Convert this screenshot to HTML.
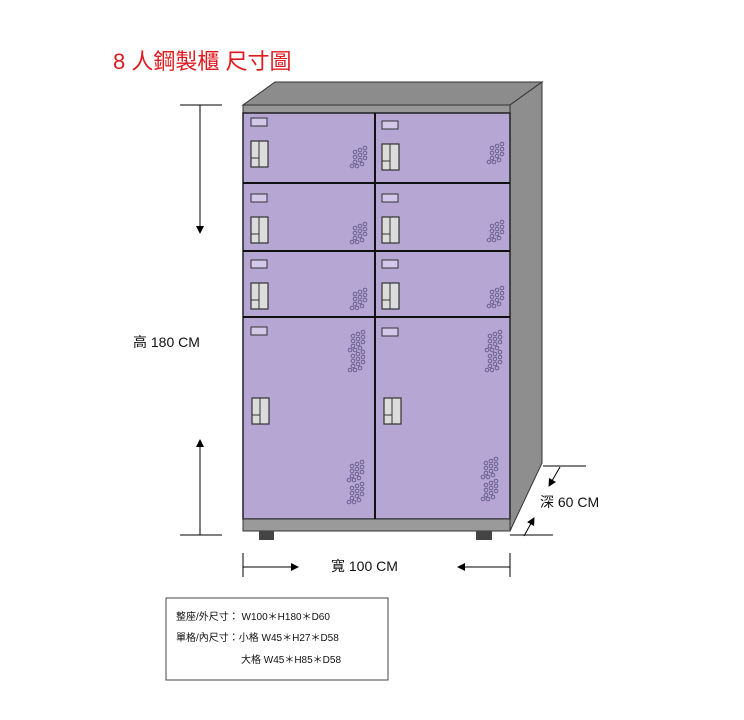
<!DOCTYPE html>
<html><head><meta charset="utf-8"><style>
body{margin:0;background:#fff;width:744px;height:720px;overflow:hidden}
svg{display:block}
text{font-family:"Liberation Sans","Noto Sans CJK TC",sans-serif}
</style></head><body>
<svg width="744" height="720" viewBox="0 0 744 720" xmlns="http://www.w3.org/2000/svg">
<defs>
<marker id="ah" markerWidth="8" markerHeight="8" refX="7" refY="4" orient="auto"><path d="M0,0 L8,4 L0,8 Z" fill="#000"/></marker>
<g id="dots" fill="none" stroke="#6a6090" stroke-width="1">
<circle cx="0" cy="0" r="1.8"/><circle cx="5" cy="-2" r="1.8"/><circle cx="10" cy="-4" r="1.8"/>
<circle cx="0" cy="5" r="1.8"/><circle cx="5" cy="3" r="1.8"/><circle cx="10" cy="1" r="1.8"/>
<circle cx="0" cy="10" r="1.8"/><circle cx="5" cy="8" r="1.8"/><circle cx="10" cy="6" r="1.8"/>
<circle cx="-3" cy="14" r="1.8"/><circle cx="2" cy="14" r="1.8"/><circle cx="7" cy="12" r="1.8"/>
</g>
<g id="tag"><rect x="0" y="0" width="16" height="8" fill="#d3c8ea" stroke="#333" stroke-width="1"/></g>
<g id="lock">
<rect x="0" y="0" width="17" height="26" fill="#dcdcdc" stroke="#333" stroke-width="1.2"/>
<line x1="8" y1="0" x2="8" y2="26" stroke="#333"/>
<line x1="0" y1="17" x2="8" y2="17" stroke="#333"/>
</g>
<g id="hw"><use href="#tag"/><use href="#lock" y="23"/></g>
</defs>
<text x="113" y="69" font-size="22" fill="#e0191e">8 人鋼製櫃  尺寸圖</text>
<polygon points="243,105 510,105 542,82 275,82" fill="#8c8c8c" stroke="#333"/>
<polygon points="510,105 542,82 542,463 510,531" fill="#8e8e8e" stroke="#333"/>
<rect x="243" y="105" width="267" height="8" fill="#979797" stroke="#333"/>
<rect x="243" y="113" width="267" height="406" fill="#b5a6d4" stroke="#222" stroke-width="1.5"/>
<rect x="243" y="519" width="267" height="12" fill="#9a9a9a" stroke="#333"/>
<rect x="259" y="531" width="15" height="9" fill="#444"/>
<rect x="476" y="531" width="16" height="9" fill="#444"/>
<g stroke="#111" stroke-width="2">
<line x1="375" y1="113" x2="375" y2="519"/>
<line x1="243" y1="183" x2="510" y2="183"/>
<line x1="243" y1="251" x2="510" y2="251"/>
<line x1="243" y1="317" x2="510" y2="317"/>
</g>
<use href="#hw" x="251" y="118"/><use href="#hw" x="382" y="121"/>
<use href="#hw" x="251" y="194"/><use href="#hw" x="382" y="194"/>
<use href="#hw" x="251" y="260"/><use href="#hw" x="382" y="260"/>
<use href="#tag" x="251" y="327"/><use href="#tag" x="382" y="328"/>
<use href="#lock" x="252" y="398"/><use href="#lock" x="384" y="398"/>
<use href="#dots" x="355" y="152"/><use href="#dots" x="492" y="148"/>
<use href="#dots" x="355" y="228"/><use href="#dots" x="492" y="226"/>
<use href="#dots" x="355" y="294"/><use href="#dots" x="492" y="292"/>
<use href="#dots" x="353" y="336"/><use href="#dots" x="353" y="356"/>
<use href="#dots" x="490" y="336"/><use href="#dots" x="490" y="356"/>
<use href="#dots" x="352" y="466"/><use href="#dots" x="352" y="488"/>
<use href="#dots" x="486" y="463"/><use href="#dots" x="486" y="485"/>
<g stroke="#000" stroke-width="1">
<line x1="180" y1="105" x2="222" y2="105"/>
<line x1="200" y1="105" x2="200" y2="233" marker-end="url(#ah)"/>
<line x1="180" y1="535" x2="222" y2="535"/>
<line x1="200" y1="535" x2="200" y2="440" marker-end="url(#ah)"/>
<line x1="243" y1="553" x2="243" y2="577"/>
<line x1="510" y1="553" x2="510" y2="577"/>
<line x1="243" y1="567" x2="298" y2="567" marker-end="url(#ah)"/>
<line x1="510" y1="567" x2="458" y2="567" marker-end="url(#ah)"/>
<line x1="543" y1="466" x2="586" y2="466"/>
<line x1="560" y1="467" x2="549" y2="486" marker-end="url(#ah)"/>
<line x1="510" y1="535" x2="553" y2="535"/>
<line x1="524" y1="536" x2="534" y2="518" marker-end="url(#ah)"/>
</g>
<text x="133" y="347" font-size="14" fill="#111">高 180 CM</text>
<text x="331" y="571" font-size="14" fill="#111">寬 100 CM</text>
<text x="540" y="507" font-size="14" fill="#111">深 60 CM</text>
<rect x="166" y="598" width="222" height="82" fill="#fff" stroke="#444"/>
<g font-size="10" fill="#111">
<text x="176" y="620">整座/外尺寸：  W100＊H180＊D60</text>
<text x="176" y="641">單格/內尺寸：小格 W45＊H27＊D58</text>
<text x="241" y="663">大格 W45＊H85＊D58</text>
</g>
</svg>
</body></html>
